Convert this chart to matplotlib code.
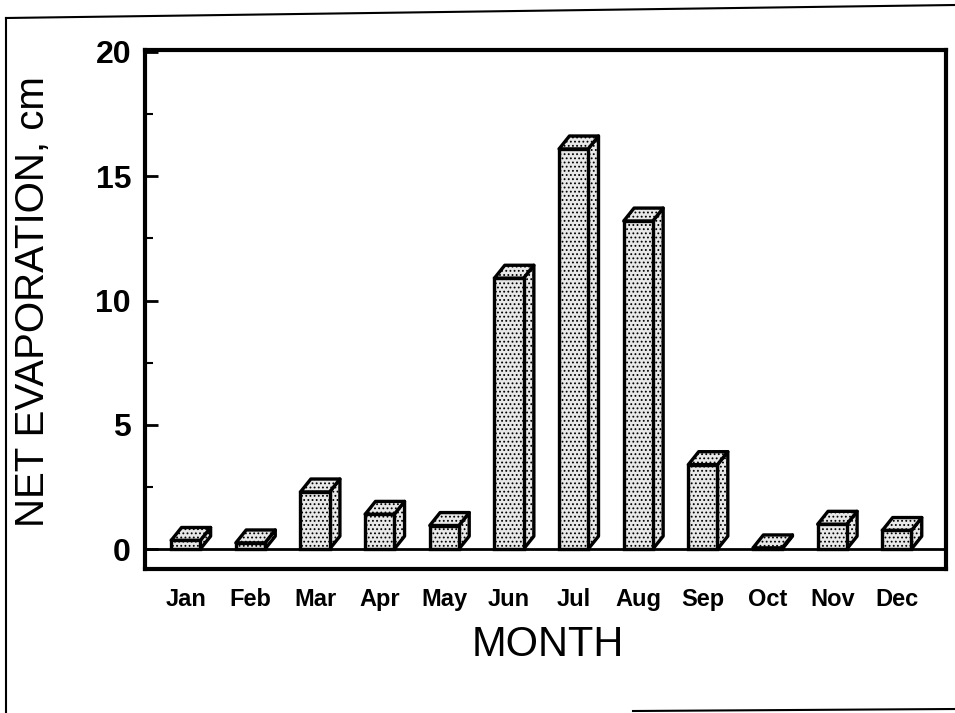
import numpy as np
import matplotlib.pyplot as plt
from matplotlib.patches import Polygon
from matplotlib.lines import Line2D

plt.rcParams['font.family'] = ['Liberation Sans', 'DejaVu Sans']
plt.rcParams['hatch.linewidth'] = 0.8

# Net evaporation per month (cm)
months = ['Jan', 'Feb', 'Mar', 'Apr', 'May', 'Jun',
          'Jul', 'Aug', 'Sep', 'Oct', 'Nov', 'Dec']
net_evap = [0.35, 0.25, 2.3, 1.4, 0.95, 10.9, 16.1, 13.2, 3.4, 0.05, 1.0, 0.75]

W, H = 955, 713
fig = plt.figure(figsize=(W / 100, H / 100), dpi=100, facecolor='white')
ax = fig.add_axes([145 / W, 1 - 569 / H, (946 - 145) / W, (569 - 50) / H])

BAR_W = 0.45
DX, DY = 0.16, 0.52   # depth offset of the 3-D boxes, data units
FACE = '#e8e8e8'
EDGE = 'black'
LW = 2.4

x = np.arange(len(months))
ax.axhline(0, color='black', lw=2, zorder=1)
bars = ax.bar(x, net_evap, width=BAR_W, facecolor=FACE, edgecolor=EDGE,
              lw=LW, hatch='....', zorder=4)

# top and side faces built from each bar's own geometry
for b in bars:
    x0, y0 = b.get_x(), b.get_y()
    x1, y1 = x0 + b.get_width(), y0 + b.get_height()
    top = [(x0, y1), (x1, y1), (x1 + DX, y1 + DY), (x0 + DX, y1 + DY)]
    side = [(x1, y0), (x1 + DX, y0 + DY), (x1 + DX, y1 + DY), (x1, y1)]
    for pts in (side, top):
        ax.add_patch(Polygon(pts, closed=True, facecolor=FACE, edgecolor=EDGE,
                             lw=LW, hatch='....', joinstyle='round', zorder=3))

ax.set_xlim(-0.63, 11.76)
ax.set_ylim(-0.8, 20.08)

for s in ax.spines.values():
    s.set_linewidth(3)

ax.set_xticks(x)
ax.set_xticklabels(months, fontsize=17, fontweight='bold')
ax.tick_params(axis='x', length=0, pad=14)
ax.set_yticks([0, 5, 10, 15, 20])
ax.set_yticks([2.5, 7.5, 12.5, 17.5], minor=True)
ax.tick_params(axis='y', which='major', direction='in', length=9, width=2,
               labelsize=23, pad=10)
ax.tick_params(axis='y', which='minor', direction='in', length=6, width=1.5)
for lab in ax.get_yticklabels():
    lab.set_fontweight('bold')

fig.text(33 / W, 1 - 302 / H, 'NET EVAPORATION, cm', rotation=90,
         fontsize=29, ha='center', va='center')
fig.text(548 / W, 1 - 645 / H, 'MONTH', fontsize=30, ha='center', va='center')

# page border from the scanned sheet
border = [((6, 18), (955, 5)), ((6, 18), (6, 713)), ((633, 711), (955, 709))]
for (xa, ya), (xb, yb) in border:
    fig.add_artist(Line2D([xa / W, xb / W], [1 - ya / H, 1 - yb / H],
                          transform=fig.transFigure, color='black', lw=1.5))

fig.savefig('out.png', dpi=100, facecolor='white')
